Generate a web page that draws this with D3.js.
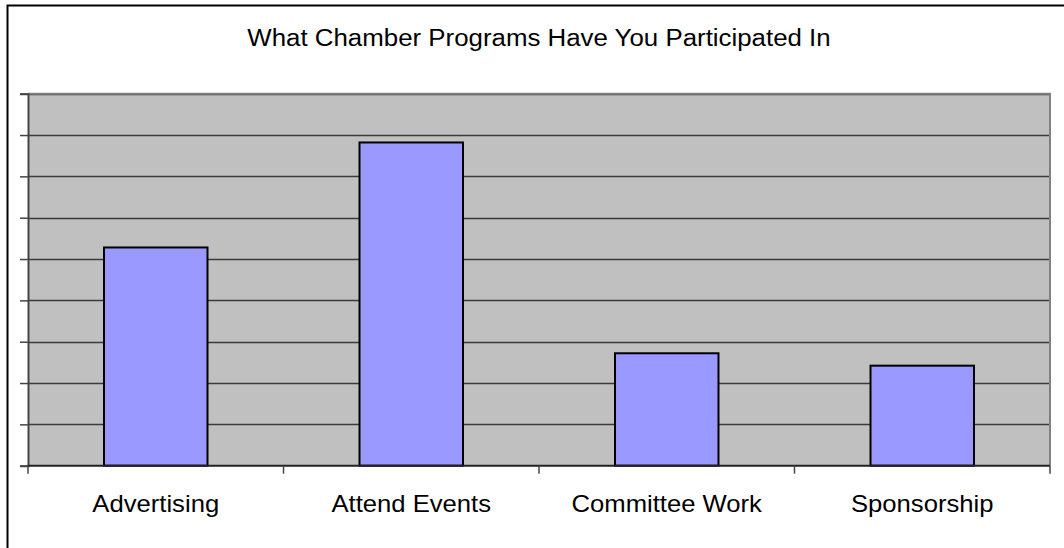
<!DOCTYPE html>
<html>
<head>
<meta charset="utf-8">
<script src="https://cdn.jsdelivr.net/npm/d3@7"></script>
<style>
  html, body { margin: 0; padding: 0; background: #ffffff; }
  svg { display: block; }
  text { font-family: "Liberation Sans", Arial, sans-serif; fill: #000; }
</style>
</head>
<body>
<svg id="chart" width="1064" height="548"></svg>
<script>
// Survey results: share of respondents per chamber program
const categories = ["Advertising", "Attend Events", "Committee Work", "Sponsorship"];
const values = [26.4, 39.1, 13.6, 12.1];
const yTicks = [0, 5, 10, 15, 20, 25, 30, 35, 40, 45];
const title = "What Chamber Programs Have You Participated In";

const svg = d3.select("#chart");
const plot = { left: 28, right: 1050, top: 93.7, bottom: 465.7 };

// outer chart frame
svg.append("rect")
  .attr("x", 7.5).attr("y", 5.5)
  .attr("width", 1064).attr("height", 560)
  .attr("fill", "#fff").attr("stroke", "#000").attr("stroke-width", 2);

const x = d3.scaleBand()
  .domain(categories)
  .range([plot.left, plot.right]);

const y = d3.scaleLinear()
  .domain([0, 45])
  .range([plot.bottom, plot.top]);

// plot area background
svg.append("rect")
  .attr("x", plot.left).attr("y", plot.top)
  .attr("width", plot.right - plot.left).attr("height", plot.bottom - plot.top)
  .attr("fill", "#c0c0c0");

// horizontal gridlines
svg.append("g")
  .selectAll("line")
  .data(yTicks.slice(1))
  .join("line")
  .attr("x1", plot.left).attr("x2", plot.right)
  .attr("y1", d => Math.round(y(d)) + 0.5).attr("y2", d => Math.round(y(d)) + 0.5)
  .attr("stroke", "#3a3a3a").attr("stroke-width", 1.5);

// plot area border (top and right in grey)
svg.append("path")
  .attr("d", `M${plot.left},${plot.top}H${plot.right}V${plot.bottom}`)
  .attr("fill", "none").attr("stroke", "#808080").attr("stroke-width", 2);

// bars
const barW = x.bandwidth() * 0.405;
svg.append("g")
  .selectAll("rect")
  .data(categories)
  .join("rect")
  .attr("x", (d) => x(d) + (x.bandwidth() - barW) / 2)
  .attr("y", (d, i) => y(values[i]))
  .attr("width", barW)
  .attr("height", (d, i) => y(0) - y(values[i]))
  .attr("fill", "#9999ff")
  .attr("stroke", "#000").attr("stroke-width", 2);

// value axis (no labels)
const yAxis = d3.axisLeft(y).tickValues(yTicks).tickSize(8).tickFormat("");
svg.append("g")
  .attr("transform", `translate(${plot.left},0)`)
  .call(yAxis)
  .call(g => g.selectAll("line").attr("stroke", "#444").attr("stroke-width", 1.5))
  .call(g => g.select(".domain").attr("stroke", "#444").attr("stroke-width", 2));

// category axis with ticks at band boundaries
const xAxisG = svg.append("g").attr("transform", `translate(0,${plot.bottom})`);
xAxisG.append("line")
  .attr("x1", plot.left).attr("x2", plot.right)
  .attr("y1", 0).attr("y2", 0)
  .attr("stroke", "#222").attr("stroke-width", 2);
const boundaries = categories.map(c => x(c)).concat([plot.right]);
xAxisG.selectAll("line.tick")
  .data(boundaries)
  .join("line")
  .attr("class", "tick")
  .attr("x1", d => d).attr("x2", d => d)
  .attr("y1", 0).attr("y2", 8)
  .attr("stroke", "#444").attr("stroke-width", 1.5);
xAxisG.selectAll("text")
  .data(categories)
  .join("text")
  .attr("x", d => x(d) + x.bandwidth() / 2)
  .attr("y", 46)
  .attr("text-anchor", "middle")
  .attr("font-size", 24)
  .text(d => d)
  .each(function () {
    // slightly wide lettering
    const w = this.getComputedTextLength();
    d3.select(this).attr("textLength", w * 1.068).attr("lengthAdjust", "spacingAndGlyphs");
  });

// title
svg.append("text")
  .attr("x", (plot.left + plot.right) / 2)
  .attr("y", 45.7)
  .attr("text-anchor", "middle")
  .attr("font-size", 23.5)
  .text(title)
  .each(function () {
    const w = this.getComputedTextLength();
    d3.select(this).attr("textLength", w * 1.1).attr("lengthAdjust", "spacingAndGlyphs");
  });
</script>
</body>
</html>
